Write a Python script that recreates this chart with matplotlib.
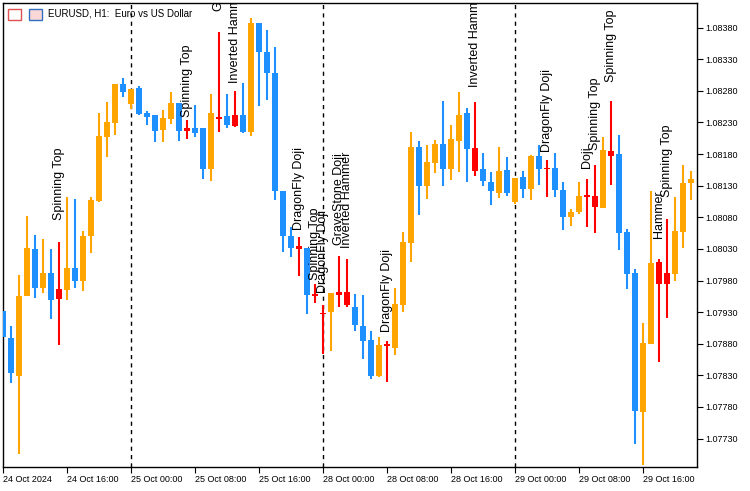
import matplotlib
matplotlib.use("Agg")
import matplotlib.pyplot as plt
from matplotlib.patches import Rectangle

opens = [1.07932,1.07889,1.07829,1.07955,1.08030,1.07968,1.07992,1.07967,1.07965,1.08000,
         1.07979,1.08050,1.08106,1.08207,1.08229,1.08291,1.08259,1.08285,1.08245,1.08242,
         1.08218,1.08236,1.08261,1.08221,1.08221,1.08221,1.08156,1.08239,1.08240,1.08224,
         1.08242,1.08215,1.08387,1.08342,1.08308,1.08122,1.08050,1.08035,1.08031,1.07959,
         1.07929,1.07930,1.07962,1.07962,1.07938,1.07908,1.07886,1.07829,1.07879,1.07873,
         1.07941,1.08039,1.08191,1.08130,1.08166,1.08196,1.08156,1.08201,1.08245,1.08190,
         1.08156,1.08136,1.08118,1.08155,1.08104,1.08144,1.08125,1.08177,1.08158,1.08158,
         1.08123,1.08080,1.08088,1.08115,1.08114,1.08095,1.08185,1.08180,1.08057,1.07992,
         1.07772,1.07879,1.08009,1.07992,1.07990,1.08057,1.08134]
highs = [1.07932,1.07908,1.07989,1.08082,1.08052,1.08046,1.08030,1.08041,1.08112,1.08109,
         1.08058,1.08112,1.08245,1.08262,1.08291,1.08300,1.08283,1.08288,1.08248,1.08242,
         1.08250,1.08278,1.08261,1.08234,1.08258,1.08221,1.08275,1.08373,1.08275,1.08280,
         1.08292,1.08395,1.08387,1.08376,1.08349,1.08122,1.08065,1.08049,1.08031,1.07974,
         1.07941,1.07960,1.08019,1.08014,1.07959,1.07957,1.07900,1.07891,1.07884,1.07968,
         1.08057,1.08215,1.08201,1.08194,1.08202,1.08264,1.08226,1.08278,1.08253,1.08262,
         1.08182,1.08152,1.08191,1.08175,1.08142,1.08153,1.08179,1.08194,1.08171,1.08182,
         1.08136,1.08093,1.08136,1.08141,1.08163,1.08207,1.08264,1.08210,1.08061,1.07998,
         1.07913,1.08122,1.08014,1.08077,1.08112,1.08163,1.08153]
lows = [1.07891,1.07818,1.07705,1.07955,1.07952,1.07960,1.07919,1.07878,1.07949,1.07968,
        1.07963,1.08023,1.08104,1.08175,1.08210,1.08270,1.08251,1.08242,1.08226,1.08199,
        1.08199,1.08228,1.08201,1.08204,1.08207,1.08141,1.08137,1.08215,1.08221,1.08223,
        1.08213,1.08209,1.08256,1.08266,1.08107,1.08025,1.08017,1.07987,1.07927,1.07944,
        1.07864,1.07868,1.07938,1.07938,1.07900,1.07856,1.07824,1.07827,1.07819,1.07862,
        1.07930,1.08009,1.08084,1.08109,1.08150,1.08130,1.08139,1.08152,1.08136,1.08145,
        1.08130,1.08099,1.08111,1.08114,1.08101,1.08111,1.08107,1.08131,1.08112,1.08112,
        1.08060,1.08066,1.08085,1.08065,1.08055,1.08095,1.08131,1.08028,1.07967,1.07721,
        1.07688,1.07879,1.07851,1.07921,1.07979,1.08031,1.08107]
closes = [1.07891,1.07834,1.07955,1.08031,1.07968,1.07992,1.07949,1.07951,1.08000,1.07979,
          1.08050,1.08107,1.08209,1.08231,1.08291,1.08278,1.08283,1.08243,1.08239,1.08217,
          1.08237,1.08261,1.08217,1.08217,1.08213,1.08156,1.08245,1.08236,1.08226,1.08242,
          1.08215,1.08387,1.08342,1.08308,1.08122,1.08050,1.08031,1.08030,1.07957,1.07955,
          1.07927,1.07960,1.07957,1.07941,1.07910,1.07884,1.07829,1.07878,1.07876,1.07943,
          1.08041,1.08191,1.08130,1.08167,1.08196,1.08156,1.08204,1.08242,1.08188,1.08153,
          1.08137,1.08122,1.08153,1.08118,1.08142,1.08125,1.08177,1.08156,1.08156,1.08123,
          1.08080,1.08088,1.08114,1.08112,1.08096,1.08186,1.08177,1.08055,1.07990,1.07774,
          1.07881,1.08008,1.07974,1.07974,1.08058,1.08134,1.08141]

pattern_idx = [7, 23, 27, 29, 37, 39, 40, 42, 43, 48, 59, 68, 73, 74, 76, 82, 83]
pattern_names = ["Spinning Top", "Spinning Top", "GraveStone Doji", "Inverted Hammer",
                 "DragonFly Doji", "Spinning Top", "DragonFly Doji", "GraveStone Doji",
                 "Inverted Hammer", "DragonFly Doji", "Inverted Hammer", "DragonFly Doji",
                 "Doji", "Spinning Top", "Spinning Top", "Hammer", "Spinning Top"]
pattern_price = [1.08076, 1.08239, 1.08406, 1.08292, 1.08060, 1.07981, 1.07960, 1.08036,
                 1.08031, 1.07898, 1.08286, 1.08183, 1.08158, 1.08186, 1.08294, 1.08047, 1.08112]

xtick_idx = [0, 8, 16, 24, 32, 40, 48, 56, 64, 72, 80]
xtick_labels = ["24 Oct 2024", "24 Oct 16:00", "25 Oct 00:00", "25 Oct 08:00", "25 Oct 16:00",
                "28 Oct 00:00", "28 Oct 08:00", "28 Oct 16:00", "29 Oct 00:00", "29 Oct 08:00",
                "29 Oct 16:00"]
day_breaks = [16, 40, 64]
yticks = [1.08380, 1.08330, 1.08280, 1.08230, 1.08180, 1.08130, 1.08080, 1.08030,
          1.07980, 1.07930, 1.07880, 1.07830, 1.07780, 1.07730]

BLUE, ORANGE, RED = "#1E90FF", "#FFA500", "#FF0000"
FONT = "Liberation Sans"

fig = plt.figure(figsize=(7.5, 4.91), dpi=100)
ax = fig.add_axes([3/750, 24/491, 694/750, 464/491])

for i in range(len(opens)):
    o, h, l, c = opens[i], highs[i], lows[i], closes[i]
    if i in pattern_idx:
        col = RED
    elif c >= o:
        col = ORANGE
    else:
        col = BLUE
    ax.vlines(i, l, h, color=col, lw=1.5, zorder=2)
    bot, top = min(o, c), max(o, c)
    hgt = max(top - bot, 0.000012)
    ax.add_patch(Rectangle((i - 0.32, bot), 0.64, hgt, color=col, lw=0, zorder=3))

for i, name, p in zip(pattern_idx, pattern_names, pattern_price):
    ax.text(i, p, name, rotation=90, ha="center", va="bottom", fontsize=9,
            family=FONT, color="black", clip_on=True, zorder=4)

for d in day_breaks:
    ax.axvline(d, color="black", lw=1, ls=(0, (3, 3)), zorder=1)

ax.set_xlim(0, 86.75)
ax.set_ylim(1.07685, 1.08419)
ax.yaxis.tick_right()
ax.set_yticks(yticks)
ax.set_yticklabels([f"{v:.5f}" for v in yticks], fontsize=6.5, family=FONT)
ax.set_xticks(xtick_idx)
ax.set_xticklabels(xtick_labels, fontsize=6.5, family=FONT, ha="left")
ax.tick_params(axis="y", direction="out", length=4, width=0.8, pad=2)
ax.tick_params(axis="x", direction="out", length=4, width=0.8, pad=2)
for s in ax.spines.values():
    s.set_linewidth(1)
    s.set_color("black")

# title with icons
fig.patches.append(Rectangle((8/750, 1-20/491), 13/750, 11/491, transform=fig.transFigure,
                             facecolor="white", edgecolor="#E05050", lw=1))
fig.patches.append(Rectangle((29/750, 1-20/491), 13/750, 11/491, transform=fig.transFigure,
                             facecolor="#FBD8D8", edgecolor="#3070C0", lw=1))
fig.text(48/750, 1-14/491, "EURUSD, H1:  Euro vs US Dollar", fontsize=7, family=FONT,
         va="center", ha="left", color="black")

fig.savefig("out.png", dpi=100, facecolor="white")
